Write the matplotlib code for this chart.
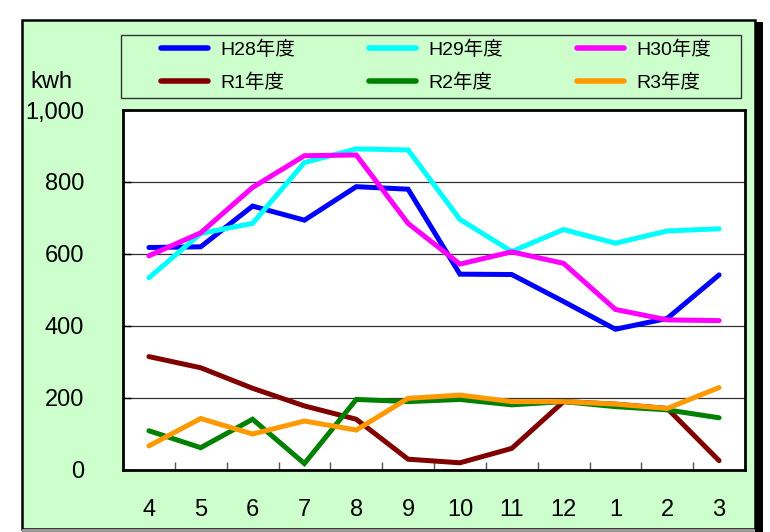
import matplotlib
matplotlib.use("Agg")
import matplotlib.pyplot as plt
from matplotlib.patches import Rectangle

plt.rcParams['font.family'] = ['Liberation Sans', 'Noto Sans CJK JP', 'DejaVu Sans']

months = ["4", "5", "6", "7", "8", "9", "10", "11", "12", "1", "2", "3"]

h28 = [618, 620, 733, 694, 787, 780, 544, 543, 468, 391, 421, 542]
h29 = [534, 657, 685, 854, 892, 889, 696, 607, 668, 630, 664, 670]
h30 = [595, 659, 785, 873, 875, 685, 572, 606, 574, 446, 417, 415]
r1 = [315, 284, 227, 178, 141, 30, 20, 60, 190, 183, 171, 26]
r2 = [109, 62, 141, 18, 196, 190, 196, 181, 190, 176, 167, 145]
r3 = [67, 143, 100, 136, 111, 199, 208, 190, 190, 183, 171, 229]

series = [
    ("H28年度", h28, "#0000FF"),
    ("H29年度", h29, "#00FFFF"),
    ("H30年度", h30, "#FF00FF"),
    ("R1年度", r1, "#800000"),
    ("R2年度", r2, "#008000"),
    ("R3年度", r3, "#FF9900"),
]

W, H = 770, 532
fig = plt.figure(figsize=(W / 100, H / 100), dpi=100)
fig.patch.set_facecolor("white")

def fx(px):
    return px / W

def fy(py):
    return 1 - py / H

# green chart area with a dark shadow on the right
fig.patches.append(Rectangle((fx(755), fy(532)), fx(8), fy(22) - fy(532),
                             transform=fig.transFigure, facecolor="black",
                             edgecolor="none", zorder=0))
fig.patches.append(Rectangle((fx(22), fy(529)), fx(755 - 22), fy(20) - fy(529),
                             transform=fig.transFigure, facecolor="#CCFFCC",
                             edgecolor="black", linewidth=1.8, zorder=1))
fig.patches.append(Rectangle((fx(22), fy(532)), fx(755 - 22), fy(529) - fy(532),
                             transform=fig.transFigure, facecolor="#999999",
                             edgecolor="none", zorder=1))

ax = fig.add_axes([fx(123), fy(470), fx(745 - 123), fy(110) - fy(470)])
ax.set_facecolor("white")
ax.set_zorder(2)

x = list(range(len(months)))
lines = {}
for name, vals, col in series:
    lines[name], = ax.plot(x, vals, color=col, linewidth=3.6, label=name,
                           solid_capstyle="round", solid_joinstyle="miter")

ax.set_xlim(-0.5, len(months) - 0.5)
ax.set_ylim(0, 1000)
ax.set_yticks([0, 200, 400, 600, 800, 1000])
ax.set_yticklabels(["0", "200", "400", "600", "800", "1,000"])
ax.set_xticks(x)
ax.set_xticklabels(months)
ax.set_xticks([i + 0.5 for i in x[:-1]], minor=True)
ax.tick_params(axis="x", which="major", length=0, pad=21, labelsize=17)
ax.tick_params(axis="x", which="minor", length=6, width=1, direction="in",
               color="#555555")
ax.tick_params(axis="y", length=6, width=1, direction="in", pad=28,
               labelsize=17)
ax.grid(axis="y", color="#333333", linewidth=0.9)
ax.set_axisbelow(True)
for sp in ax.spines.values():
    sp.set_linewidth(2)
    sp.set_color("black")

fig.text(fx(30), fy(82), "kwh", fontsize=17, va="center", ha="left")

# legend box, filled row by row like the original
fig.patches.append(Rectangle((fx(121), fy(98)), fx(741 - 121), fy(35) - fy(98),
                             transform=fig.transFigure, facecolor="#CCFFCC",
                             edgecolor="#333333", linewidth=1, zorder=2))
order = ["H28年度", "R1年度", "H29年度", "R2年度", "H30年度", "R3年度"]
leg = fig.legend([lines[n] for n in order], order,
                 loc="center", bbox_to_anchor=(fx(436), fy(66.5)), ncol=3,
                 frameon=False, fontsize=14, handlelength=2.4,
                 handletextpad=0.65, columnspacing=3.8, labelspacing=0.75,
                 borderpad=0)
for line in leg.get_lines():
    line.set_linewidth(4)
    line.set_solid_capstyle("round")
leg.set_zorder(3)

fig.savefig("out.png", dpi=100)
